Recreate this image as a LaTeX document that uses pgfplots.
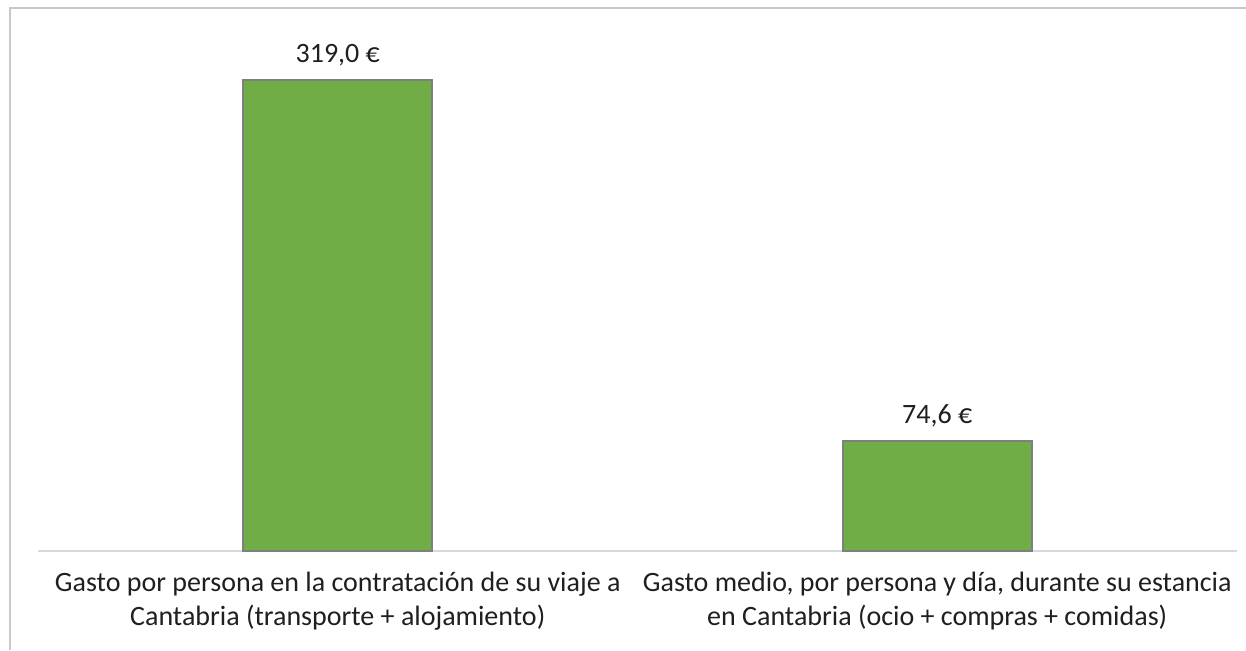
\documentclass[border=0pt]{standalone}
\usepackage{fontspec}
\setmainfont{Carlito}
\usepackage{pgfplots}
\pgfplotsset{compat=1.18}
\definecolor{barGreen}{HTML}{70AD47}
\definecolor{barEdge}{HTML}{7F7F7F}
\definecolor{axisGray}{HTML}{D9D9D9}
\definecolor{frameGray}{HTML}{C8C8C8}
\begin{document}
\begin{tikzpicture}
\path[use as bounding box] (-19pt,-49.5pt) rectangle (604pt,275.5pt);
\draw[frameGray, line width=0.8pt] (-14pt,-49.5pt) -- (-14pt,271.5pt) -- (604pt,271.5pt);
\begin{axis}[
    at={(0pt,0pt)}, anchor=south west,
    scale only axis, width=599.5pt, height=258.5pt,
    ybar, bar width=94.5pt,
    ymin=0, ymax=350,
    xmin=-0.5, xmax=1.5,
    xtick={0,1},
    xticklabels={{Gasto por persona en la contratación de su viaje a\\Cantabria (transporte + alojamiento)},
                 {Gasto medio, por persona y día, durante su estancia\\en Cantabria (ocio + compras + comidas)}},
    xticklabel style={font=\fontsize{14}{17}\selectfont, align=center, text=black!88, yshift=-7pt},
    major tick length=0pt,
    axis x line*=bottom, axis y line=none,
    x axis line style={axisGray, line width=0.8pt},
    ytick=\empty,
    every axis plot/.append style={bar shift=0pt},
    nodes near coords={\pgfmathprintnumber{\pgfplotspointmeta}~€},
    nodes near coords style={font=\fontsize{14}{16}\selectfont, text=black!88, yshift=3pt,
      /pgf/number format/.cd, fixed, fixed zerofill, precision=1, use comma, assume math mode=true},
    clip=false,
]
\addplot[fill=barGreen, draw=barEdge, line width=1pt] coordinates {(0,319.0) (1,74.6)};
\end{axis}
\end{tikzpicture}
\end{document}
